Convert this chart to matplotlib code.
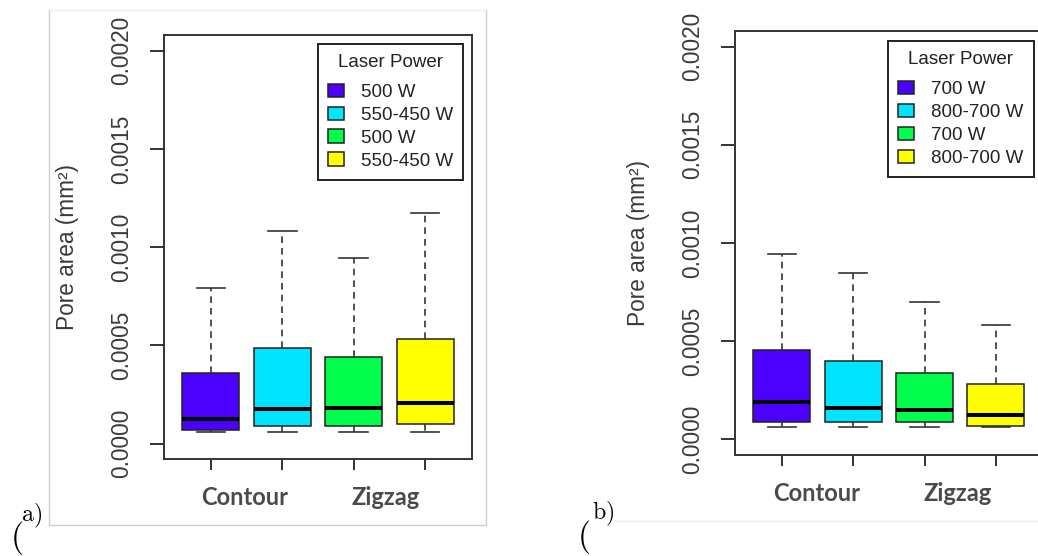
import matplotlib.pyplot as plt
import matplotlib.transforms as mtransforms
from matplotlib.lines import Line2D
from matplotlib.patches import Patch

plt.rcParams['font.family'] = ['Liberation Sans', 'DejaVu Sans']

# box colours shared by both panels (R topo-like palette)
colors = ['#4C00FF', '#00E5FF', '#00FF4D', '#FFFF00']
groups = ['Contour', 'Zigzag']

# panel a) - 500 W / 550-450 W
labels_a = ['500 W', '550-450 W', '500 W', '550-450 W']
q1_a = [0.000067, 0.000090, 0.000092, 0.000098]
med_a = [0.000127, 0.000178, 0.000179, 0.000209]
q3_a = [0.000361, 0.000487, 0.000442, 0.000533]
lo_a = [0.000060, 0.000060, 0.000060, 0.000060]
hi_a = [0.000790, 0.001083, 0.000947, 0.001172]

# panel b) - 700 W / 800-700 W
labels_b = ['700 W', '800-700 W', '700 W', '800-700 W']
q1_b = [0.000089, 0.000089, 0.000089, 0.000067]
med_b = [0.000189, 0.000158, 0.000148, 0.000121]
q3_b = [0.000456, 0.000396, 0.000338, 0.000279]
lo_b = [0.000060, 0.000060, 0.000060, 0.000060]
hi_b = [0.000945, 0.000847, 0.000697, 0.000579]

yticks = [0, 0.0005, 0.0010, 0.0015, 0.0020]
ytick_labels = ['0.0000', '0.0005', '0.0010', '0.0015', '0.0020']

W, H = 1038, 556
fig = plt.figure(figsize=(W / 100, H / 100), dpi=100)


def panel(rect, labels, q1, med, q3, lo, hi, group_x, leg_anchor):
    ax = fig.add_axes(rect)
    stats = [dict(med=m, q1=a, q3=b, whislo=l, whishi=h, fliers=[])
             for a, m, b, l, h in zip(q1, med, q3, lo, hi)]
    bp = ax.bxp(stats, positions=[1, 2, 3, 4], widths=0.8, patch_artist=True,
                showfliers=False, capwidths=0.4,
                boxprops=dict(edgecolor='#222222', linewidth=1.1),
                medianprops=dict(color='black', linewidth=2.9, solid_capstyle='butt'),
                whiskerprops=dict(color='#333333', linewidth=1.2, linestyle=(0, (4, 3))),
                capprops=dict(color='#333333', linewidth=1.2))
    for box, c in zip(bp['boxes'], colors):
        box.set_facecolor(c)

    ax.set_xlim(0.34, 4.66)
    ax.set_ylim(-0.00008, 0.00208)
    for s in ax.spines.values():
        s.set_color('#333333')
        s.set_linewidth(1.4)

    ax.set_xticks([1, 2, 3, 4])
    ax.set_xticklabels([])
    ax.tick_params(axis='x', length=7.7, width=1.4, color='#333333')
    ax.set_yticks(yticks)
    ax.set_yticklabels(ytick_labels, rotation=90, ha='center', va='center')
    ax.tick_params(axis='y', length=9.9, width=1.4, color='#333333', pad=20.4,
                   labelsize=16.3, labelcolor='#3a3a3a')

    ax.text(-0.311, 0.5, 'Pore area (mm²)', transform=ax.transAxes, rotation=90,
            ha='center', va='center', fontsize=16.3, color='#3a3a3a')

    trans = mtransforms.blended_transform_factory(ax.transData, ax.transAxes)
    for gx, g in zip(group_x, groups):
        ax.text(gx, -0.091, g, transform=trans, ha='center', va='center',
                family='Lato', fontweight='bold', fontsize=17, color='#4a4a4a')

    handles = [Patch(facecolor=c, edgecolor='#222222', linewidth=1.1) for c in colors]
    leg = ax.legend(handles, labels, title='Laser Power', loc='upper left',
                    bbox_to_anchor=leg_anchor, borderaxespad=0, fancybox=False,
                    framealpha=1, edgecolor='#222222', fontsize=13.5,
                    title_fontsize=13.5, handlelength=0.85, handleheight=0.7,
                    handletextpad=0.9, labelspacing=0.31, borderpad=0.55)
    leg._legend_box.sep = 8.9  # extra room between title and entries, as in R
    leg.get_frame().set_linewidth(1.4)
    for t in leg.get_texts():
        t.set_color('#222222')
    leg.get_title().set_color('#222222')
    return ax


ax_a = panel([163.7 / W, 1 - 459.3 / H, 308.6 / W, 424.3 / H],
             labels_a, q1_a, med_a, q3_a, lo_a, hi_a, [1.47, 3.44], (0.499, 0.979))
ax_b = panel([734.7 / W, 1 - 454.7 / H, 308.3 / W, 423.7 / H],
             labels_b, q1_b, med_b, q3_b, lo_b, hi_b, [1.49, 3.465], (0.497, 0.976))

# light frame around panel a and the faint rule under panel b
fx = lambda px: px / W
fy = lambda py: 1 - py / H
for xs, ys, c in [([49.3, 49.3], [10, 525], '#cfcfcf'),
                  ([486, 486], [10, 525], '#cfcfcf'),
                  ([49.3, 486], [525, 525], '#cfcfcf'),
                  ([49.3, 486], [10, 10], '#eeeeee'),
                  ([615, 1038], [521, 521], '#eeeeee')]:
    fig.add_artist(Line2D([fx(v) for v in xs], [fy(v) for v in ys],
                          color=c, linewidth=1.0))

# "(a)" / "(b)" labels in a serif (Computer Modern) look
for px, py, s, size in [(10, 546.7, '(', 24), (20.7, 521, 'a)', 17.3),
                        (576.7, 546.5, '(', 24), (591.7, 519, 'b)', 17.3)]:
    fig.text(fx(px), fy(py), r'$\mathrm{' + s + '}$', fontsize=size,
             math_fontfamily='cm', ha='left', va='baseline')

fig.savefig('out.png', dpi=100, facecolor='white')
